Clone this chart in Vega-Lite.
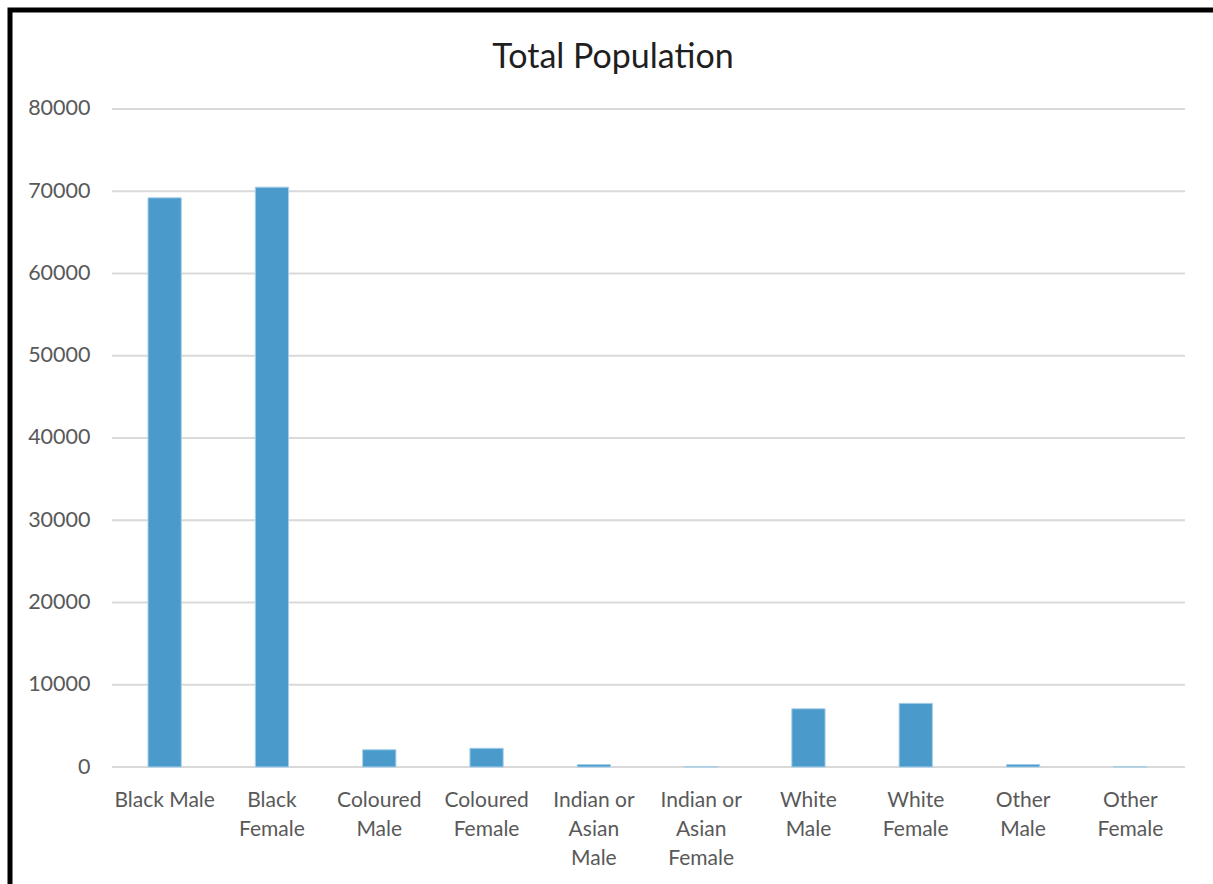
{
  "$schema": "https://vega.github.io/schema/vega-lite/v6.json",
  "width": 1206,
  "height": 890,
  "padding": {"left": 10, "top": 10, "right": 0, "bottom": 0},
  "background": "white",
  "title": {
    "text": "Total Population",
    "font": "Lato",
    "fontSize": 34,
    "fontWeight": "normal",
    "color": "#1f1f1f",
    "anchor": "middle",
    "offset": -65
  },
  "config": {
    "view": {"stroke": "black", "strokeWidth": 5},
    "axis": {"labelFont": "Lato", "labelColor": "#595959", "grid": false, "domain": false, "ticks": false, "tickSize": 0}
  },
  "datasets": {
    "population": [
      {"Category": "Black Male", "Population": 69200},
      {"Category": "Black Female", "Population": 70500},
      {"Category": "Coloured Male", "Population": 2100},
      {"Category": "Coloured Female", "Population": 2280},
      {"Category": "Indian or Asian Male", "Population": 300},
      {"Category": "Indian or Asian Female", "Population": 40},
      {"Category": "White Male", "Population": 7080},
      {"Category": "White Female", "Population": 7740},
      {"Category": "Other Male", "Population": 310},
      {"Category": "Other Female", "Population": 30}
    ],
    "gridlines": [
      {"v": 0}, {"v": 10000}, {"v": 20000}, {"v": 30000}, {"v": 40000},
      {"v": 50000}, {"v": 60000}, {"v": 70000}, {"v": 80000}
    ]
  },
  "layer": [
    {
      "data": {"name": "gridlines"},
      "mark": {"type": "rule", "color": "#d9d9d9", "strokeWidth": 2},
      "encoding": {
        "y": {
          "field": "v",
          "type": "quantitative",
          "scale": {"domain": [-16170, 92036], "nice": false, "zero": false},
          "axis": {
            "title": null,
            "values": [0, 10000, 20000, 30000, 40000, 50000, 60000, 70000, 80000],
            "format": "d",
            "labelFontSize": 21.5,
            "labelPadding": 0,
            "offset": -80
          }
        },
        "x": {
          "datum": 0,
          "type": "quantitative",
          "scale": {"domain": [-0.09506, 1.02889], "nice": false, "zero": false},
          "axis": null
        },
        "x2": {"datum": 1}
      }
    },
    {
      "data": {"name": "population"},
      "mark": {"type": "bar", "color": "#4a9bcb", "stroke": "#a8d0ea", "strokeWidth": 1},
      "encoding": {
        "x": {
          "field": "Category",
          "type": "nominal",
          "sort": null,
          "scale": {"paddingInner": 0.6897, "paddingOuter": 0.9646, "align": 0.6667},
          "axis": {
            "title": null,
            "labelAngle": 0,
            "labelFontSize": 21,
            "labelLineHeight": 29,
            "labelPadding": 22,
            "offset": -133,
            "labelExpr": "datum.label == 'Black Male' ? datum.label : datum.label == 'Indian or Asian Male' ? ['Indian or', 'Asian', 'Male'] : datum.label == 'Indian or Asian Female' ? ['Indian or', 'Asian', 'Female'] : split(datum.label, ' ')"
          }
        },
        "y": {
          "field": "Population",
          "type": "quantitative",
          "scale": {"domain": [-16170, 92036], "nice": false, "zero": false},
          "axis": null
        }
      }
    }
  ],
  "resolve": {"scale": {"x": "independent"}, "axis": {"y": "independent"}}
}
